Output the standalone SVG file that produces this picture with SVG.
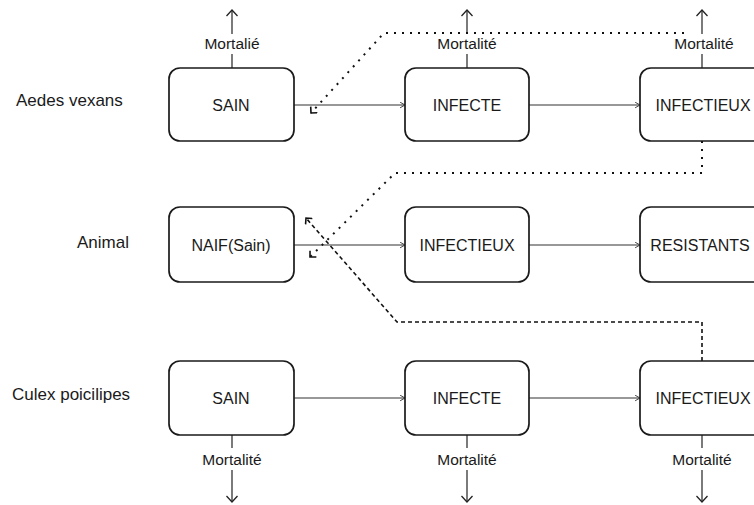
<svg xmlns="http://www.w3.org/2000/svg" width="754" height="505" viewBox="0 0 754 505">
<defs>
<style>
.box{fill:#fff;stroke:#1a1a1a;stroke-width:1.7}
.lbl{font-family:"Liberation Sans",Arial,sans-serif;font-size:16px;fill:#1a1a1a;text-anchor:middle}
.row{font-family:"Liberation Sans",Arial,sans-serif;font-size:17px;fill:#1a1a1a}
.mort{font-family:"Liberation Sans",Arial,sans-serif;font-size:15.5px;fill:#1a1a1a;text-anchor:middle}
.flow{stroke:#333;stroke-width:1.2;fill:none;marker-end:url(#chev)}
.mline{stroke:#222;stroke-width:1.2;fill:none}
.marr{stroke:#222;stroke-width:1.2;fill:none;marker-end:url(#up)}
.dot{stroke:#111;stroke-width:2;fill:none;stroke-dasharray:2 6}
.dash{stroke:#111;stroke-width:1.6;fill:none;stroke-dasharray:4 3}
</style>
<marker id="chev" viewBox="0 0 10 10" refX="9" refY="5" markerWidth="7" markerHeight="7" markerUnits="userSpaceOnUse" orient="auto"><path d="M2,1 L9,5 L2,9" fill="none" stroke="#333" stroke-width="1.3"/></marker>
<marker id="up" viewBox="0 0 12 12" refX="11" refY="6" markerWidth="12" markerHeight="12" markerUnits="userSpaceOnUse" orient="auto"><path d="M5,0.5 L11,6 L5,11.5" fill="none" stroke="#222" stroke-width="1.3"/></marker>
<marker id="corner" viewBox="0 0 10 10" refX="9" refY="5" markerWidth="10" markerHeight="10" markerUnits="userSpaceOnUse" orient="auto"><path d="M4.5,0.5 L9,5 L4.5,9.5" fill="none" stroke="#111" stroke-width="1.6"/></marker>
</defs>
<rect width="754" height="505" fill="#fff"/>

<g id="row-labels">
<text class="row" x="16" y="106">Aedes vexans</text>
<text class="row" x="77" y="248">Animal</text>
<text class="row" x="12" y="400">Culex poicilipes</text>
</g>

<g id="connectors">
<line class="flow" x1="294" y1="105" x2="405" y2="105"/>
<line class="flow" x1="529" y1="105" x2="640" y2="105"/>
<line class="flow" x1="294" y1="245" x2="405" y2="245"/>
<line class="flow" x1="529" y1="245" x2="640" y2="245"/>
<line class="flow" x1="294" y1="398" x2="405" y2="398"/>
<line class="flow" x1="529" y1="398" x2="640" y2="398"/>
<!-- mortality top -->
<line class="mline" x1="232" y1="68" x2="232" y2="54"/><line class="marr" x1="232" y1="34" x2="232" y2="10"/>
<line class="mline" x1="467" y1="68" x2="467" y2="54"/><line class="marr" x1="467" y1="34" x2="467" y2="10"/>
<line class="mline" x1="702" y1="68" x2="702" y2="54"/><line class="marr" x1="702" y1="34" x2="702" y2="10"/>
<!-- mortality bottom -->
<line class="mline" x1="232" y1="435" x2="232" y2="448"/><line class="marr" x1="232" y1="470" x2="232" y2="502"/>
<line class="mline" x1="467" y1="435" x2="467" y2="448"/><line class="marr" x1="467" y1="470" x2="467" y2="502"/>
<line class="mline" x1="702" y1="435" x2="702" y2="448"/><line class="marr" x1="702" y1="470" x2="702" y2="502"/>
<!-- transmission lines -->
<path class="dot" d="M684,33 L384,33 L311,113" marker-end="url(#corner)"/>
<path class="dot" d="M702,141 L702,173 L395,173 L310,257" marker-end="url(#corner)"/>
<path class="dash" d="M702,361 L702,322 L397,322 L306,218" marker-end="url(#corner)"/>
</g>

<g id="mortality-labels">
<text class="mort" x="232" y="49">Mortalié</text>
<text class="mort" x="467" y="49">Mortalité</text>
<text class="mort" x="704" y="49">Mortalité</text>
<text class="mort" x="232" y="465">Mortalité</text>
<text class="mort" x="467" y="465">Mortalité</text>
<text class="mort" x="702" y="465">Mortalité</text>
</g>

<g id="aedes-sain"><rect class="box" x="169" y="68" width="125" height="73" rx="11"/><text class="lbl" x="231" y="111">SAIN</text></g>
<g id="aedes-infecte"><rect class="box" x="405" y="68" width="124" height="73" rx="11"/><text class="lbl" x="467" y="111">INFECTE</text></g>
<g id="aedes-infectieux"><rect class="box" x="640" y="68" width="125" height="73" rx="11"/><text class="lbl" x="703" y="111">INFECTIEUX</text></g>

<g id="animal-naif"><rect class="box" x="169" y="207" width="125" height="75" rx="11"/><text class="lbl" x="231" y="251">NAIF(Sain)</text></g>
<g id="animal-infectieux"><rect class="box" x="405" y="207" width="124" height="75" rx="11"/><text class="lbl" x="467" y="251">INFECTIEUX</text></g>
<g id="animal-resistants"><rect class="box" x="640" y="207" width="125" height="75" rx="11"/><text class="lbl" x="700" y="251">RESISTANTS</text></g>

<g id="culex-sain"><rect class="box" x="169" y="361" width="125" height="74" rx="11"/><text class="lbl" x="231" y="404">SAIN</text></g>
<g id="culex-infecte"><rect class="box" x="405" y="361" width="124" height="74" rx="11"/><text class="lbl" x="467" y="404">INFECTE</text></g>
<g id="culex-infectieux"><rect class="box" x="640" y="361" width="125" height="74" rx="11"/><text class="lbl" x="703" y="404">INFECTIEUX</text></g>
</svg>
